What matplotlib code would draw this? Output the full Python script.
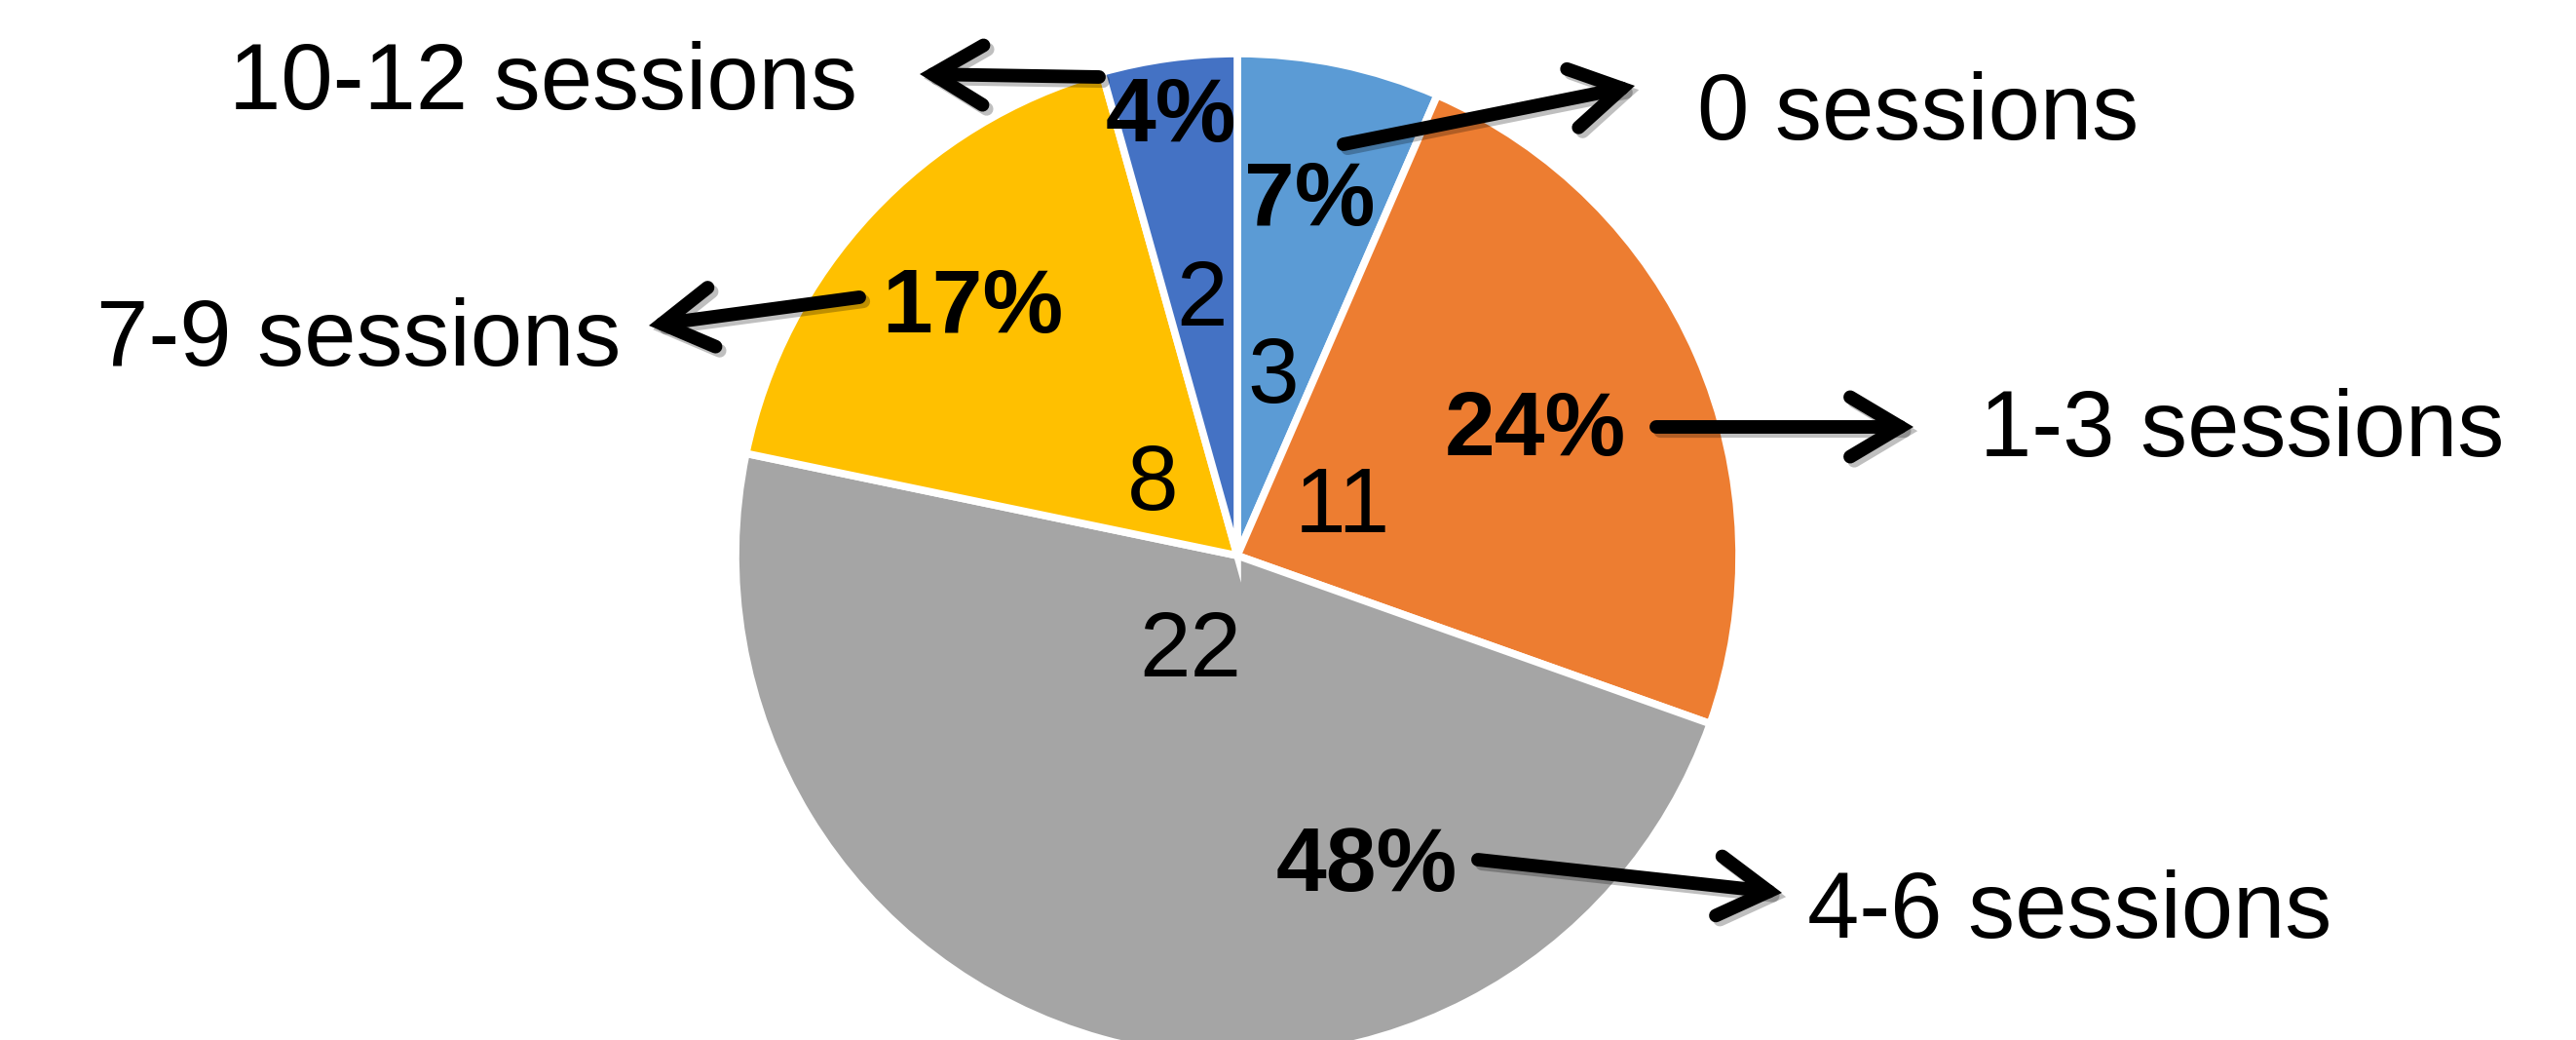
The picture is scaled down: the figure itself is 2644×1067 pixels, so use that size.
import matplotlib
matplotlib.use("Agg")
import matplotlib.pyplot as plt
from matplotlib.patches import FancyArrowPatch
import matplotlib.patheffects as pe

categories = ["0 sessions", "1-3 sessions", "4-6 sessions", "7-9 sessions", "10-12 sessions"]
counts = [3, 11, 22, 8, 2]
colors = ["#5B9BD5", "#ED7D31", "#A5A5A5", "#FFC000", "#4472C4"]

total = sum(counts)
pct_labels = [f"{round(100 * c / total)}%" for c in counts]

W, H = 2644, 1067
fig = plt.figure(figsize=(W / 100, H / 100), dpi=100)
ax = fig.add_axes([0, 0, 1, 1])

def Y(y):  # convert from top-origin pixel coordinate
    return H - y

cx, cy, r = 1270, Y(570), 515
ax.pie(counts, colors=colors, startangle=90, counterclock=False,
       center=(cx, cy), radius=r,
       wedgeprops=dict(edgecolor="white", linewidth=5.5))
ax.set_xlim(0, W)
ax.set_ylim(0, H)
ax.set_aspect("auto")
ax.axis("off")

font = "Liberation Sans"
dy = 8
pct_pos = [(1344, 199), (1576, 435), (1403, 882), (998, 309), (1202, 113)]
num_pos = [(1307, 380), (1378, 514), (1222, 662), (1183, 490), (1234, 302)]
cat_pos = [(1742, 110, "left"), (2032, 435, "left"), (1855, 929, "left"),
           (637, 342, "right"), (880, 79, "right")]
arrows = [((1379, 148), (1678, 88)),
          ((1700, 438), (1964, 438)),
          ((1517, 882), (1829, 916)),
          ((882, 305), (666, 334)),
          ((1128, 79), (944, 76))]

for (px, py), lab in zip(pct_pos, pct_labels):
    ax.text(px, Y(py + dy), lab, ha="center", va="center", fontsize=67,
            fontweight="bold", family=font, color="black")
for (nx, ny), c in zip(num_pos, counts):
    ax.text(nx, Y(ny + dy), str(c), ha="center", va="center", fontsize=68,
            family=font, color="black")
for (tx, ty, ha), cat in zip(cat_pos, categories):
    ax.text(tx, Y(ty + dy), cat, ha=ha, va="center", fontsize=69,
            family=font, color="black")

for (t, h) in arrows:
    arr = FancyArrowPatch((t[0], Y(t[1])), (h[0], Y(h[1])),
                          arrowstyle="->,head_length=3.7,head_width=2.2",
                          mutation_scale=10, lw=10, color="black",
                          capstyle="round", joinstyle="miter",
                          shrinkA=0, shrinkB=0)
    arr.set_path_effects([pe.SimpleLineShadow(offset=(3, -3), alpha=0.25, shadow_color="black"),
                          pe.Normal()])
    ax.add_patch(arr)

fig.savefig("out.png", dpi=100)
